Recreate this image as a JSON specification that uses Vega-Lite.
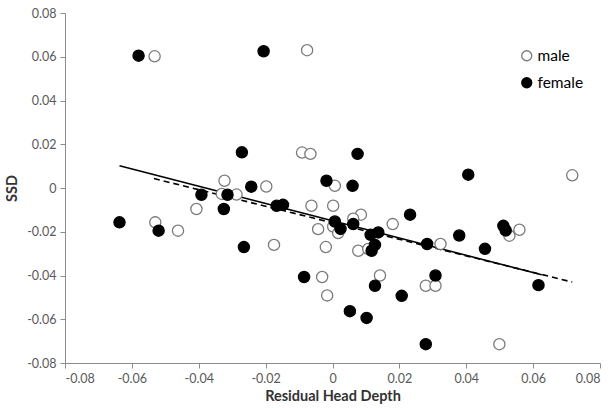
{
  "$schema": "https://vega.github.io/schema/vega-lite/v6.json",
  "autosize": {"type": "none"},
  "padding": {"left": 65, "top": 13, "right": 14, "bottom": 45},
  "width": 535,
  "height": 350,
  "background": "white",
  "config": {
    "view": {"stroke": null},
    "font": "Lato",
    "axis": {
      "grid": false,
      "domainColor": "#8c8c8c",
      "tickColor": "#8c8c8c",
      "tickSize": 5,
      "labelColor": "#595959",
      "labelFontSize": 12.5,
      "labelFont": "Lato",
      "titleFont": "Lato",
      "titleFontSize": 14.5,
      "titleFontWeight": "bold",
      "titleColor": "#333333"
    }
  },
  "datasets": {
    "pts": [
      {"sex": "male", "x": -0.0532, "y": 0.0602},
      {"sex": "male", "x": -0.0076, "y": 0.063},
      {"sex": "male", "x": -0.0091, "y": 0.0162},
      {"sex": "male", "x": -0.0066, "y": 0.0156},
      {"sex": "male", "x": -0.0323, "y": 0.0033},
      {"sex": "male", "x": -0.0198, "y": 0.0007},
      {"sex": "male", "x": 0.0007, "y": 0.001},
      {"sex": "male", "x": 0.0717, "y": 0.0058},
      {"sex": "male", "x": -0.0331, "y": -0.0027},
      {"sex": "male", "x": -0.0287, "y": -0.003},
      {"sex": "male", "x": -0.0407, "y": -0.0096},
      {"sex": "male", "x": -0.053, "y": -0.0157},
      {"sex": "male", "x": -0.0462, "y": -0.0195},
      {"sex": "male", "x": -0.0175, "y": -0.026},
      {"sex": "male", "x": -0.0063, "y": -0.0081},
      {"sex": "male", "x": 0.0002, "y": -0.0081},
      {"sex": "male", "x": -0.0043, "y": -0.0188},
      {"sex": "male", "x": -0.002, "y": -0.027},
      {"sex": "male", "x": -0.0031, "y": -0.0407},
      {"sex": "male", "x": -0.0016, "y": -0.0491},
      {"sex": "male", "x": 0.0002, "y": -0.0176},
      {"sex": "male", "x": 0.0017, "y": -0.0206},
      {"sex": "male", "x": 0.0085, "y": -0.0122},
      {"sex": "male", "x": 0.0062, "y": -0.014},
      {"sex": "male", "x": 0.0077, "y": -0.0287},
      {"sex": "male", "x": 0.0107, "y": -0.0279},
      {"sex": "male", "x": 0.018, "y": -0.0165},
      {"sex": "male", "x": 0.0142, "y": -0.04},
      {"sex": "male", "x": 0.0323, "y": -0.0256},
      {"sex": "male", "x": 0.0279, "y": -0.0447},
      {"sex": "male", "x": 0.0308, "y": -0.0447},
      {"sex": "male", "x": 0.0499, "y": -0.0714},
      {"sex": "male", "x": 0.0529, "y": -0.0218},
      {"sex": "male", "x": 0.0559, "y": -0.0191},
      {"sex": "female", "x": -0.058, "y": 0.0605},
      {"sex": "female", "x": -0.0206, "y": 0.0625},
      {"sex": "female", "x": -0.0271, "y": 0.0163},
      {"sex": "female", "x": -0.0243, "y": 0.0006},
      {"sex": "female", "x": -0.0018, "y": 0.0033},
      {"sex": "female", "x": 0.0075, "y": 0.0156},
      {"sex": "female", "x": 0.006, "y": 0.001},
      {"sex": "female", "x": 0.0406, "y": 0.0061},
      {"sex": "female", "x": -0.0392, "y": -0.0031},
      {"sex": "female", "x": -0.0314, "y": -0.0031},
      {"sex": "female", "x": -0.0325, "y": -0.0096},
      {"sex": "female", "x": -0.0167, "y": -0.0081},
      {"sex": "female", "x": -0.0148, "y": -0.0077},
      {"sex": "female", "x": -0.0637, "y": -0.0157},
      {"sex": "female", "x": -0.052, "y": -0.0195},
      {"sex": "female", "x": -0.0265, "y": -0.027},
      {"sex": "female", "x": -0.0085, "y": -0.0407},
      {"sex": "female", "x": 0.0007, "y": -0.0153},
      {"sex": "female", "x": 0.0024, "y": -0.0187},
      {"sex": "female", "x": 0.0062, "y": -0.0165},
      {"sex": "female", "x": 0.0232, "y": -0.0122},
      {"sex": "female", "x": 0.0114, "y": -0.0214},
      {"sex": "female", "x": 0.0137, "y": -0.0203},
      {"sex": "female", "x": 0.0127, "y": -0.026},
      {"sex": "female", "x": 0.0117, "y": -0.0287},
      {"sex": "female", "x": 0.0283, "y": -0.0256},
      {"sex": "female", "x": 0.0379, "y": -0.0217},
      {"sex": "female", "x": 0.0456, "y": -0.0278},
      {"sex": "female", "x": 0.0511, "y": -0.0173},
      {"sex": "female", "x": 0.0518, "y": -0.0194},
      {"sex": "female", "x": 0.0308, "y": -0.04},
      {"sex": "female", "x": 0.0127, "y": -0.0447},
      {"sex": "female", "x": 0.0207, "y": -0.0493},
      {"sex": "female", "x": 0.0052, "y": -0.0563},
      {"sex": "female", "x": 0.0102, "y": -0.0594},
      {"sex": "female", "x": 0.0279, "y": -0.0714},
      {"sex": "female", "x": 0.0616, "y": -0.0444}
    ],
    "fits": [
      {"sex": "female", "x": -0.0637, "y": 0.0102},
      {"sex": "female", "x": 0.0626, "y": -0.0397},
      {"sex": "male", "x": -0.0534, "y": 0.0043},
      {"sex": "male", "x": 0.0717, "y": -0.043}
    ]
  },
  "layer": [
    {
      "data": {"name": "fits"},
      "mark": {"type": "line", "color": "black", "strokeWidth": 1.6},
      "encoding": {
        "x": {"field": "x", "type": "quantitative", "scale": {"domain": [-0.08, 0.08]}},
        "y": {"field": "y", "type": "quantitative", "scale": {"domain": [-0.08, 0.08]}},
        "detail": {"field": "sex"},
        "strokeDash": {
          "field": "sex",
          "type": "nominal",
          "scale": {"domain": ["female", "male"], "range": [[1, 0], [6, 4]]},
          "legend": null
        }
      }
    },
    {
      "data": {"name": "pts"},
      "mark": {"type": "point", "shape": "circle", "size": 125, "strokeWidth": 1.3, "opacity": 1, "fillOpacity": 1},
      "encoding": {
        "x": {
          "field": "x", "type": "quantitative",
          "scale": {"domain": [-0.08, 0.08]},
          "axis": {
            "title": "Residual Head Depth",
            "values": [-0.08, -0.06, -0.04, -0.02, 0, 0.02, 0.04, 0.06, 0.08],
            "labelExpr": "datum.value == 0 ? '0' : toString(round(datum.value*100)/100)",
            "labelPadding": 4,
            "titlePadding": 5
          }
        },
        "y": {
          "field": "y", "type": "quantitative",
          "scale": {"domain": [-0.08, 0.08]},
          "axis": {
            "title": "SSD",
            "values": [-0.08, -0.06, -0.04, -0.02, 0, 0.02, 0.04, 0.06, 0.08],
            "labelExpr": "datum.value == 0 ? '0' : toString(round(datum.value*100)/100)",
            "labelPadding": 4,
            "titlePadding": 7
          }
        },
        "fill": {
          "field": "sex", "type": "nominal",
          "scale": {"domain": ["male", "female"], "range": ["white", "black"]},
          "legend": {
            "title": null,
            "orient": "none",
            "legendX": 454,
            "legendY": 35,
            "symbolSize": 100,
            "symbolStrokeWidth": 1.3,
            "labelFontSize": 15.5,
            "labelFont": "Lato",
            "labelColor": "black",
            "rowPadding": 10,
            "labelOffset": 3
          }
        },
        "stroke": {
          "field": "sex", "type": "nominal",
          "scale": {"domain": ["male", "female"], "range": ["#7a7a7a", "black"]}
        }
      }
    }
  ]
}
